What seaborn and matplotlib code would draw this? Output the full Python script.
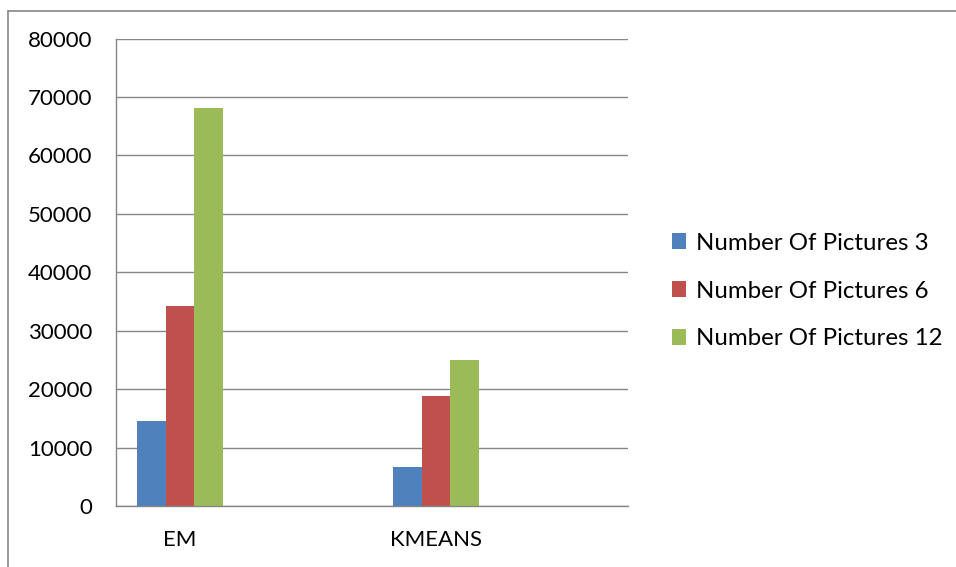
import matplotlib
matplotlib.use("Agg")
import matplotlib.pyplot as plt
from matplotlib.lines import Line2D
from matplotlib.patches import Patch
import seaborn as sns
import pandas as pd

# Run time per clustering method, by number of pictures
methods = ["EM", "KMEANS"]
series = ["Number Of Pictures 3", "Number Of Pictures 6", "Number Of Pictures 12"]
pictures_3 = [14600, 6600]
pictures_6 = [34300, 18900]
pictures_12 = [68100, 25000]

# category slots on the x axis (two empty slots between/after the methods)
slots = ["EM", "", "KMEANS", " "]
y_ticks = [0, 10000, 20000, 30000, 40000, 50000, 60000, 70000, 80000]
colors = ["#4F81BD", "#C0504D", "#9BBB59"]

rows = []
for name, vals in zip(series, [pictures_3, pictures_6, pictures_12]):
    for m, v in zip(methods, vals):
        rows.append({"method": m, "series": name, "value": v})
df = pd.DataFrame(rows)

sns.set_theme(style="white")
plt.rcParams["font.family"] = ["Lato", "DejaVu Sans"]
plt.rcParams["text.color"] = "black"

fig = plt.figure(figsize=(9.56, 5.67), dpi=100)
ax = fig.add_axes([116 / 956, 1 - 506 / 567, 512 / 956, (506 - 38.6) / 567])

sns.barplot(data=df, x="method", y="value", hue="series", order=slots,
            hue_order=series, palette=colors, width=0.67, saturation=1,
            legend=False, ax=ax, errorbar=None, linewidth=0)

grid_c = "#868686"
ax.set_ylim(0, 80000)
ax.set_xlim(-0.5, 3.5)
ax.set_yticks(y_ticks)
ax.set_yticklabels([str(t) for t in y_ticks])
ax.yaxis.grid(True, color=grid_c, linewidth=1.0)
ax.set_axisbelow(True)

ax.set_xticks([-0.5, 0.5, 1.5, 2.5, 3.5])
ax.set_xticklabels([])
ax.set_xticks([0, 2], minor=True)
ax.set_xticklabels(["EM", "KMEANS"], minor=True)
ax.tick_params(axis="x", which="major", length=6, width=1, color=grid_c, direction="out")
ax.tick_params(axis="x", which="minor", length=0, pad=17, labelsize=16, labelcolor="black")
ax.tick_params(axis="y", length=6, width=1, color=grid_c, direction="out", pad=11,
               labelsize=16, labelcolor="black")
ax.set_xlabel("")
ax.set_ylabel("")

for side in ["top", "right"]:
    ax.spines[side].set_visible(False)
for side in ["left", "bottom"]:
    ax.spines[side].set_color(grid_c)
    ax.spines[side].set_linewidth(1.0)

handles = [Patch(facecolor=c, edgecolor="none") for c in colors]
fig.legend(handles, series, loc="center left", bbox_to_anchor=(672 / 956, 1 - 291 / 567),
           frameon=False, fontsize=17.3, handlelength=0.6, handleheight=0.6,
           handletextpad=0.4, labelspacing=1.12, borderpad=0, borderaxespad=0,
           labelcolor="black")

# chart-area border (left and top edges)
fig.add_artist(Line2D([7.5 / 956, 7.5 / 956], [0, 1 - 10.5 / 567], color=grid_c, linewidth=1.2))
fig.add_artist(Line2D([7.5 / 956, 1], [1 - 10.5 / 567, 1 - 10.5 / 567], color=grid_c, linewidth=1.2))

fig.savefig("out.png", dpi=100)
